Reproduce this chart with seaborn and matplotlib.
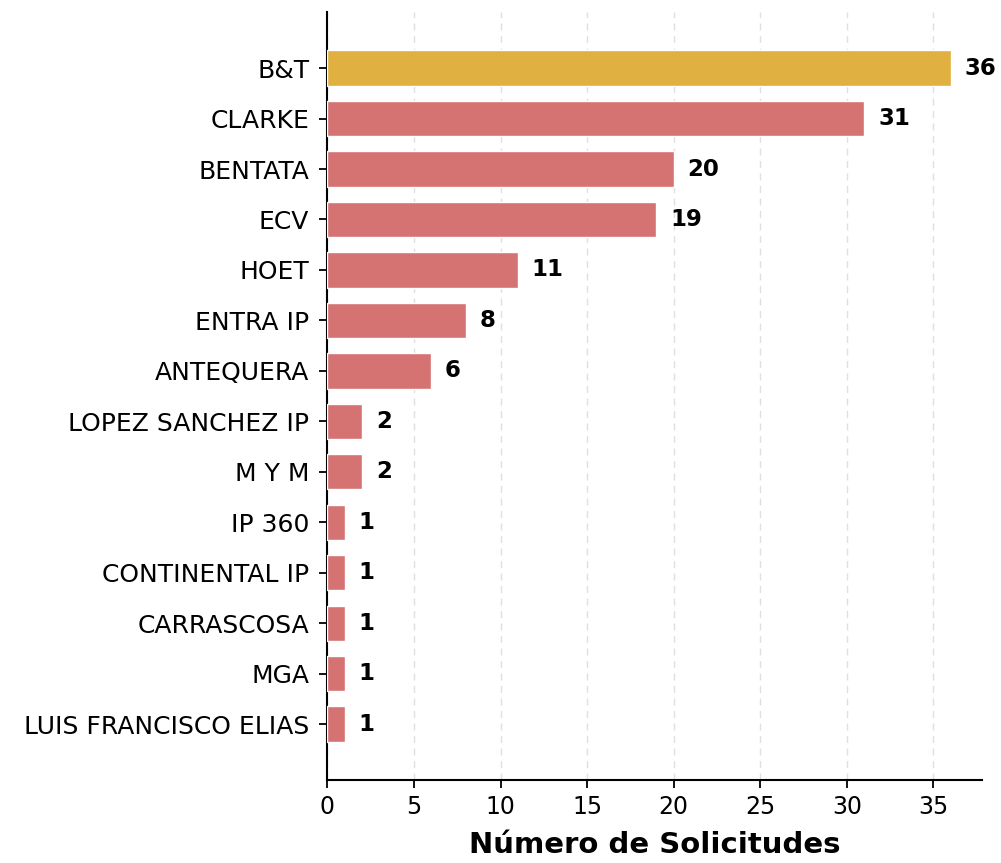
import pandas as pd
import seaborn as sns
import matplotlib.pyplot as plt

firmas = ["B&T", "CLARKE", "BENTATA", "ECV", "HOET", "ENTRA IP", "ANTEQUERA",
          "LOPEZ SANCHEZ IP", "M Y M", "IP 360", "CONTINENTAL IP", "CARRASCOSA",
          "MGA", "LUIS FRANCISCO ELIAS"]
solicitudes = [36, 31, 20, 19, 11, 8, 6, 2, 2, 1, 1, 1, 1, 1]

df = pd.DataFrame({"firma": firmas, "n": solicitudes})
top = df["n"].max()
colores = ["#E0B040" if v == top else "#D57272" for v in df["n"]]

sns.set_style("white")
plt.rcParams['font.family'] = ['DejaVu Sans']

fig, ax = plt.subplots(figsize=(10.01, 8.63), dpi=100)
sns.barplot(data=df, y="firma", x="n", hue="firma", palette=colores,
            saturation=1, legend=False, orient="h", width=0.7, ax=ax, zorder=3)

for i, v in enumerate(df["n"]):
    ax.text(v + 0.8, i, str(v), va="center", ha="left",
            fontsize=16.5, fontweight="bold", color="black")

ax.set_xlim(0, 37.8)
ax.set_ylim(len(df) - 1 + 1.11, -1.11)
ax.set_xticks(range(0, 40, 5))
ax.xaxis.grid(True, linestyle=(0, (5, 4)), color="#e0e0e0", linewidth=1, zorder=0)
ax.set_axisbelow(True)
sns.despine(ax=ax)
for s in ["left", "bottom"]:
    ax.spines[s].set_linewidth(1.5)
    ax.spines[s].set_color("black")
ax.tick_params(axis="both", length=6, width=1.3, colors="black",
               left=True, bottom=True)
ax.tick_params(axis="y", pad=7, labelsize=18)
ax.tick_params(axis="x", pad=5, labelsize=17)
ax.set_ylabel("")
ax.set_xlabel("Número de Solicitudes", fontsize=21, fontweight="bold",
              labelpad=8, color="black")

fig.subplots_adjust(left=0.327, right=0.981, top=0.986, bottom=0.096)
fig.savefig("out.png", dpi=100)
